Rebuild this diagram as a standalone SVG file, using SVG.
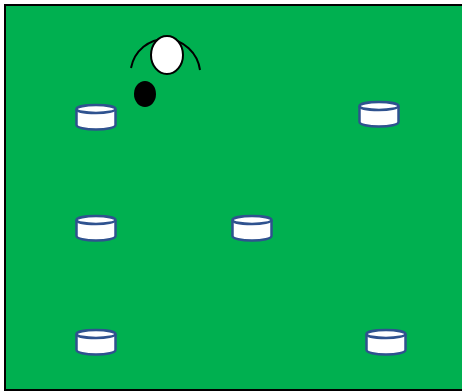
<svg xmlns="http://www.w3.org/2000/svg" width="462" height="392" viewBox="0 0 462 392">
<defs>
<style>
.shape{fill:#FFFFFF;stroke:#2F528F;stroke-width:2.5}
</style>
<g id="coneShape">
<path class="shape" d="M-19.5,-8 L-19.5,8 A19.5,4.5 0 0 0 19.5,8 L19.5,-8"/>
<ellipse class="shape" cx="0" cy="-8" rx="19.5" ry="4"/>
</g>
</defs>
<rect x="5" y="5" width="460" height="385" fill="#00B050" stroke="#000000" stroke-width="2"/>
<g id="player">
<path d="M131,68 A35,36 0 0 1 200,70" fill="none" stroke="#000000" stroke-width="2"/>
<ellipse cx="167" cy="55" rx="16" ry="19" fill="#FFFFFF" stroke="#000000" stroke-width="2"/>
<ellipse cx="145" cy="94" rx="11" ry="13" fill="#000000"/>
</g>
<g id="cone1"><use href="#coneShape" transform="translate(96,117)"/></g>
<g id="cone2"><use href="#coneShape" transform="translate(379,114)"/></g>
<g id="cone3"><use href="#coneShape" transform="translate(96,228)"/></g>
<g id="cone4"><use href="#coneShape" transform="translate(252,228)"/></g>
<g id="cone5"><use href="#coneShape" transform="translate(96,342)"/></g>
<g id="cone6"><use href="#coneShape" transform="translate(386,342)"/></g>
<g id="connectors"/>
</svg>
